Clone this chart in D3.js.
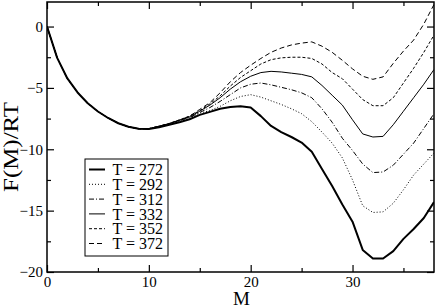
<!DOCTYPE html>
<html>
<head>
<meta charset="utf-8">
<script src="https://cdn.jsdelivr.net/npm/d3@7"></script>
<style>
html,body{margin:0;padding:0;background:#fff;}
svg{display:block;}
svg text{font-family:"Liberation Serif","Times New Roman",serif !important;fill:#000;}
</style>
</head>
<body>
<svg id="chart" width="436" height="306"></svg>
<script>
// ---- data ----
const M = [0,1,2,3,4,5,6,7,8,9,10,11,12,13,14,15,16,17,18,19,20,21,22,23,24,25,26,27,28,29,30,31,32,33,34,35,36,37,38];
const T272 = [0,-2.55,-4.23,-5.37,-6.25,-6.92,-7.45,-7.88,-8.17,-8.33,-8.35,-8.2,-8.0,-7.8,-7.55,-7.2,-6.95,-6.7,-6.55,-6.5,-6.6,-7.3,-8.1,-8.6,-9.0,-9.45,-10.2,-11.6,-13.0,-14.5,-15.9,-18.2,-18.9,-18.9,-18.3,-17.3,-16.5,-15.6,-14.3];
const T292 = [0,-2.55,-4.23,-5.37,-6.25,-6.92,-7.45,-7.88,-8.17,-8.33,-8.33,-8.2,-7.95,-7.7,-7.45,-7.05,-6.85,-6.5,-6.05,-5.7,-5.55,-5.75,-6.05,-6.35,-6.7,-7.1,-7.75,-8.6,-9.5,-10.7,-12.5,-14.6,-15.15,-15.1,-14.4,-13.3,-12.1,-11.2,-10.3];
const T312 = [0,-2.55,-4.23,-5.37,-6.25,-6.92,-7.45,-7.88,-8.17,-8.33,-8.32,-8.15,-7.92,-7.65,-7.4,-7.0,-6.6,-6.1,-5.55,-5.0,-4.7,-4.6,-4.75,-4.95,-5.15,-5.4,-5.8,-6.7,-7.8,-9.1,-10.1,-11.2,-11.9,-11.85,-11.3,-10.4,-9.5,-8.3,-7.1];
const T332 = [0,-2.55,-4.23,-5.37,-6.25,-6.92,-7.45,-7.88,-8.17,-8.33,-8.32,-8.12,-7.9,-7.62,-7.35,-6.9,-6.4,-5.8,-5.1,-4.5,-4.05,-3.75,-3.65,-3.7,-3.8,-3.9,-4.1,-4.8,-5.6,-6.4,-7.6,-8.75,-9.0,-8.95,-8.0,-6.9,-5.8,-4.7,-3.5];
const T352 = [0,-2.55,-4.23,-5.37,-6.25,-6.92,-7.45,-7.88,-8.17,-8.33,-8.32,-8.12,-7.9,-7.6,-7.3,-6.85,-6.3,-5.65,-4.85,-4.15,-3.6,-3.05,-2.7,-2.55,-2.5,-2.5,-2.6,-3.05,-3.75,-4.25,-5.1,-5.95,-6.45,-6.45,-5.8,-4.6,-3.4,-2.1,-0.7];
const T372 = [0,-2.55,-4.23,-5.37,-6.25,-6.92,-7.45,-7.88,-8.17,-8.33,-8.32,-8.12,-7.92,-7.65,-7.3,-6.75,-6.2,-5.4,-4.5,-3.75,-3.15,-2.6,-2.1,-1.75,-1.5,-1.35,-1.25,-1.6,-2.1,-2.75,-3.45,-4.05,-4.3,-4.1,-3.0,-2.0,-1.1,0.2,1.8];
const seriesLabels = ["T = 272","T = 292","T = 312","T = 332","T = 352","T = 372"];
const xMajorTicks = [0,10,20,30];
const xMinorTicks = [5,15,25,35];
const yMajorTicks = [0,-5,-10,-15,-20];
const yMinorTicks = [-2.5,-7.5,-12.5,-17.5];
const xTitle = "M";
const yTitle = "F(M)/RT";

// ---- styles ----
const styles = [
  {w:2, dash:null},
  {w:1, dash:"1,2"},
  {w:1, dash:"5,2,1,2"},
  {w:1, dash:null},
  {w:1, dash:"3,2"},
  {w:1, dash:"5,3"}
];
const seriesValues = [T272,T292,T312,T332,T352,T372];

const svg = d3.select("#chart");
const L = 47, R = 434, Tp = 2, B = 272;
const x = d3.scaleLinear().domain([0,38]).range([L,R]);
const y = d3.scaleLinear().domain([-20,2]).range([B,Tp]);

svg.append("defs").append("clipPath").attr("id","clip")
  .append("rect").attr("x",L).attr("y",Tp).attr("width",R-L).attr("height",B-Tp);

// lines
const line = d3.line().x(d=>x(d[0])).y(d=>y(d[1]));
const gLines = svg.append("g").attr("clip-path","url(#clip)");
seriesValues.forEach((vals,i)=>{
  const pts = M.map((m,j)=>[m,vals[j]]);
  gLines.append("path").datum(pts)
    .attr("d",line).attr("fill","none").attr("stroke","#000")
    .attr("stroke-width",styles[i].w)
    .attr("stroke-dasharray",styles[i].dash)
    .attr("stroke-linejoin","round");
});

// axes
function styleAxis(g){
  g.attr("font-family",null).attr("font-size",null);
  g.select(".domain").remove();
  g.selectAll("line").attr("stroke","#000").attr("stroke-width",1.2);
  g.selectAll("text").attr("fill","#000").style("font-size","15px");
}
svg.append("g").attr("transform",`translate(0,${B})`)
  .call(d3.axisBottom(x).tickValues(xMajorTicks).tickSize(-7).tickPadding(4).tickFormat(d3.format("d"))).call(styleAxis);
svg.append("g").attr("transform",`translate(0,${B})`)
  .call(d3.axisBottom(x).tickValues(xMinorTicks).tickSize(-4).tickFormat("")).call(styleAxis);
svg.append("g").attr("transform",`translate(0,${Tp})`)
  .call(d3.axisTop(x).tickValues(xMajorTicks).tickSize(-7).tickFormat("")).call(styleAxis);
svg.append("g").attr("transform",`translate(0,${Tp})`)
  .call(d3.axisTop(x).tickValues(xMinorTicks).tickSize(-4).tickFormat("")).call(styleAxis);
svg.append("g").attr("transform",`translate(${L},0)`)
  .call(d3.axisLeft(y).tickValues(yMajorTicks).tickSize(-7).tickPadding(4).tickFormat(d3.format("d"))).call(styleAxis);
svg.append("g").attr("transform",`translate(${L},0)`)
  .call(d3.axisLeft(y).tickValues(yMinorTicks).tickSize(-4).tickFormat("")).call(styleAxis);
svg.append("g").attr("transform",`translate(${R},0)`)
  .call(d3.axisRight(y).tickValues(yMajorTicks).tickSize(-7).tickFormat("")).call(styleAxis);
svg.append("g").attr("transform",`translate(${R},0)`)
  .call(d3.axisRight(y).tickValues(yMinorTicks).tickSize(-4).tickFormat("")).call(styleAxis);

// frame
svg.append("rect").attr("x",L).attr("y",Tp).attr("width",R-L).attr("height",B-Tp)
  .attr("fill","none").attr("stroke","#000").attr("stroke-width",1.5);

// titles
svg.append("text").attr("x",(L+R)/2+1).attr("y",304.5).attr("text-anchor","middle")
  .style("font-size","19px").text(xTitle);
svg.append("text").attr("transform","translate(18,147) rotate(-90)").attr("text-anchor","middle")
  .style("font-size","21px").attr("textLength",90).attr("lengthAdjust","spacingAndGlyphs").text(yTitle);

// legend
const lg = svg.append("g");
lg.append("rect").attr("x",85).attr("y",159).attr("width",83).attr("height",97)
  .attr("fill","#fff").attr("stroke","#000").attr("stroke-width",1);
seriesLabels.forEach((lab,i)=>{
  const yy = 169.5 + i*14.8;
  lg.append("line").attr("x1",89).attr("x2",105).attr("y1",yy).attr("y2",yy)
    .attr("stroke","#000").attr("stroke-width",styles[i].w).attr("stroke-dasharray",styles[i].dash);
  lg.append("text").attr("x",112.5).attr("y",yy).attr("dy","0.35em").style("font-size","16px").text(lab);
});
</script>
</body>
</html>
